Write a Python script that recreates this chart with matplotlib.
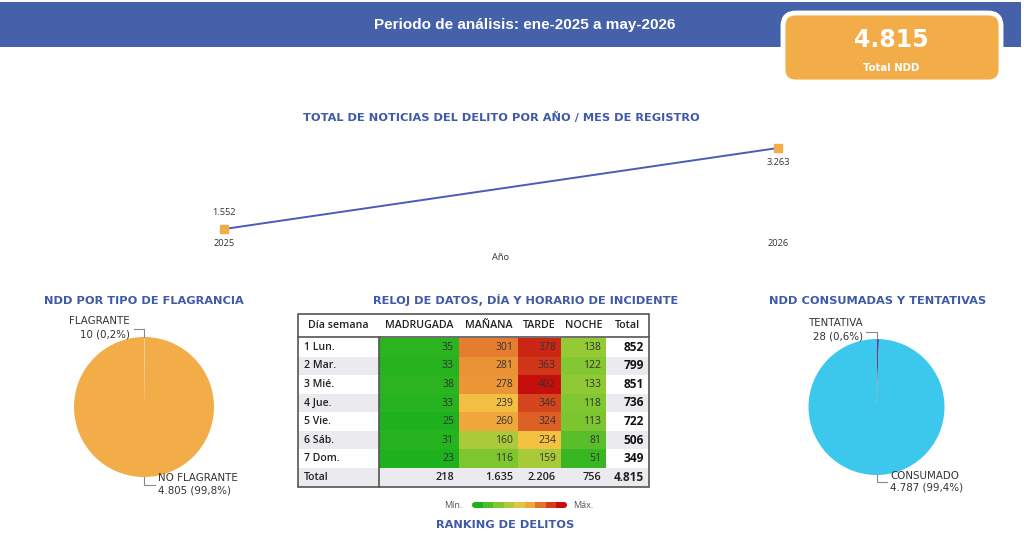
import numpy as np
import matplotlib
matplotlib.use("Agg")
import matplotlib.pyplot as plt
from matplotlib.colors import LinearSegmentedColormap, Normalize
from matplotlib.patches import Rectangle, FancyBboxPatch

# --- datos ---
periodo = "Periodo de análisis: ene-2025 a may-2026"

anios = [2025, 2026]
ndd_anio = [1552, 3263]

flag_labels = ["FLAGRANTE", "NO FLAGRANTE"]
flag_values = [10, 4805]

cons_labels = ["TENTATIVA", "CONSUMADO"]
cons_values = [28, 4787]

dias = ["1 Lun.", "2 Mar.", "3 Mié.", "4 Jue.", "5 Vie.", "6 Sáb.", "7 Dom."]
franjas = ["MADRUGADA", "MAÑANA", "TARDE", "NOCHE"]
madrugada = [35, 33, 38, 33, 25, 31, 23]
manana = [301, 281, 278, 239, 260, 160, 116]
tarde = [378, 363, 402, 346, 324, 234, 159]
noche = [138, 122, 133, 118, 113, 81, 51]

# --- estilo ---
BLUE = '#4461AA'
TITLE_BLUE = '#3F5AA8'
ORANGE = '#F2AD48'
CYAN = '#3CC7EC'
NAVY = '#3B4A9E'
TXT = '#333333'
TITLE_FONT = ['DejaVu Sans']
TABLE_FONT = ['Open Sans', 'DejaVu Sans']

heat = LinearSegmentedColormap.from_list('heat', [
    (0.0, '#1DB11D'), (0.3, '#93CB35'), (0.55, '#F4C544'),
    (0.7, '#EA8B33'), (0.85, '#D6481F'), (1.0, '#C40F0C')])


def fmt(n):
    return f"{n:,}".replace(",", ".")


def pct(v, tot):
    return f"{100 * v / tot:.1f}".replace(".", ",") + "%"


W, H = 1024, 535
fig = plt.figure(figsize=(W / 100, H / 100), dpi=100)
bg = fig.add_axes([0, 0, 1, 1])
bg.set_autoscale_on(False)
bg.set_xlim(0, W)
bg.set_ylim(H, 0)
bg.axis('off')


def px_axes(x0, y0, x1, y1):
    return fig.add_axes([x0 / W, 1 - y1 / H, (x1 - x0) / W, (y1 - y0) / H])


def title(x, y, s):
    bg.text(x, y, s, color=TITLE_BLUE, fontsize=8.2, fontweight='bold',
            family=TITLE_FONT, ha='center', va='center')


# cabecera
bg.add_patch(Rectangle((0, 2), 1021, 45, color=BLUE, lw=0))
bg.text(525, 25, periodo, color='white', fontsize=11, fontweight='bold',
        family=['Liberation Sans Narrow', 'Liberation Sans'], ha='center', va='center')
bg.add_patch(FancyBboxPatch((783, 13), 218, 69, boxstyle="round,pad=0,rounding_size=13",
                            fc=ORANGE, ec='white', lw=3.5))
total = sum(ndd_anio)
bg.text(891, 40, fmt(total), color='white', fontsize=17, fontweight='bold',
        family='DejaVu Sans', ha='center', va='center')
bg.text(891, 68, "Total NDD", color='white', fontsize=7.3, fontweight='bold',
        family='DejaVu Sans', ha='center', va='center')

# linea por año
title(501, 117, "TOTAL DE NOTICIAS DEL DELITO POR AÑO / MES DE REGISTRO")
ax = px_axes(180, 140, 820, 235)
ax.plot(anios, ndd_anio, color='#4A5CB8', lw=1.4, marker='s', ms=5.5,
        mfc=ORANGE, mec=ORANGE)
ax.set_xlim(2024.92, 2026.076)
ax.set_ylim(1425, 3432)
for x, v, off in zip(anios, ndd_anio, [16, -15]):
    ax.annotate(fmt(v), (x, v), xytext=(0, off), textcoords='offset pixels',
                ha='center', va='center', fontsize=6.7, color=TXT, family=TABLE_FONT)
ax.set_xticks(anios)
ax.set_xticklabels([str(a) for a in anios], fontsize=6.7, color=TXT, family=TABLE_FONT)
ax.tick_params(axis='x', length=0, pad=3)
ax.set_yticks([])
for s in ax.spines.values():
    s.set_visible(False)
ax.patch.set_alpha(0)
bg.text(500, 257, "Año", fontsize=6.7, color=TXT, family=TABLE_FONT, ha='center', va='center')


# tortas
def pie(cx, cy, r, labels, values, colors):
    k = 1.6
    pa = px_axes(cx - k * r, cy - k * r, cx + k * r, cy + k * r)
    pa.pie(values, colors=colors, startangle=90, counterclock=False,
           wedgeprops=dict(linewidth=0))
    pa.set_xlim(-k, k)
    pa.set_ylim(-k, k)
    pa.axis('off')
    tot = sum(values)
    # etiqueta pequeña arriba izquierda
    pa.plot([-0.15, 0.0, 0.0], [1.11, 1.11, 1.0], color='#888888', lw=0.8)
    pa.text(-0.2, 1.23, labels[0], ha='right', va='center', fontsize=7.4, color=TXT)
    pa.text(-0.2, 1.04, f"{fmt(values[0])} ({pct(values[0], tot)})",
            ha='right', va='center', fontsize=7.4, color=TXT)
    # etiqueta grande abajo derecha
    pa.plot([0.0, 0.0, 0.15], [-1.0, -1.11, -1.11], color='#888888', lw=0.8)
    pa.text(0.2, -1.01, labels[1], ha='left', va='center', fontsize=7.4, color=TXT)
    pa.text(0.2, -1.19, f"{fmt(values[1])} ({pct(values[1], tot)})",
            ha='left', va='center', fontsize=7.4, color=TXT)


title(144, 301, "NDD POR TIPO DE FLAGRANCIA")
pie(144, 407, 70, flag_labels, flag_values, ['#F8CFA5', ORANGE])
title(878, 301, "NDD CONSUMADAS Y TENTATIVAS")
pie(876.5, 407, 68, cons_labels, cons_values, [NAVY, CYAN])

# tabla reloj de datos
title(526, 300, "RELOJ DE DATOS, DÍA Y HORARIO DE INCIDENTE")
M = np.array([madrugada, manana, tarde, noche]).T
col_edges = [298, 379, 459, 518, 561, 606, 649]
head_top, head_bot = 314, 337
row_edges = np.linspace(338, 468, len(dias) + 1)
tab_bot = 487

for i in range(len(dias) + 1):
    if i % 2 == 1:
        y0 = row_edges[i]
        h = (row_edges[i + 1] - y0) if i < len(dias) else tab_bot - y0
        bg.add_patch(Rectangle((298, y0), 351, h, fc='#EAEAEF', ec='none'))

bg.pcolormesh(col_edges[1:6], row_edges, M, cmap=heat,
              norm=Normalize(M.min(), M.max()), shading='flat')

for j, f in enumerate(["Día semana"] + franjas + ["Total"]):
    bg.text((col_edges[j] + col_edges[j + 1]) / 2, 325.5, f, ha='center', va='center',
            fontsize=7.7, fontweight='semibold', color='#222222', family=TABLE_FONT)

row_tot = M.sum(axis=1)
for i, d in enumerate(dias):
    yc = (row_edges[i] + row_edges[i + 1]) / 2
    bg.text(304, yc, d, ha='left', va='center', fontsize=7.6, fontweight='semibold',
            color='#222222', family=TABLE_FONT)
    for j in range(M.shape[1]):
        bg.text(col_edges[j + 2] - 5, yc, fmt(M[i, j]), ha='right', va='center',
                fontsize=7.5, color=TXT, family=TABLE_FONT)
    bg.text(col_edges[6] - 5, yc, fmt(row_tot[i]), ha='right', va='center',
            fontsize=8.6, fontweight='bold', color='#111111', family=TABLE_FONT)

yc = (row_edges[-1] + tab_bot) / 2
bg.text(304, yc, "Total", ha='left', va='center', fontsize=7.6, fontweight='semibold',
        color='#222222', family=TABLE_FONT)
for j, v in enumerate(list(M.sum(axis=0)) + [M.sum()]):
    bg.text(col_edges[j + 2] - 5, yc, fmt(v), ha='right', va='center',
            fontsize=7.8 if j < 4 else 8.6, fontweight='semibold' if j < 4 else 'bold',
            color='#222222', family=TABLE_FONT)

bg.add_patch(Rectangle((298, head_top), 351, tab_bot - head_top, fill=False,
                       ec='#555555', lw=1.2))
bg.plot([298, 649], [head_bot, head_bot], color='#555555', lw=1.2)
bg.plot([379, 379], [head_bot, tab_bot], color='#555555', lw=1.2)

# leyenda mín / máx
bar = FancyBboxPatch((472, 502), 95, 6, boxstyle="round,pad=0,rounding_size=3",
                     fc='none', ec='none')
bg.add_patch(bar)
im = bg.imshow(np.linspace(0, 1, 9)[None, :], cmap=heat, aspect='auto',
               extent=[472, 567, 508, 502])
im.set_clip_path(bar)
bg.text(462, 505, "Mín.", ha='right', va='center', fontsize=6.5, color='#555555',
        family=TABLE_FONT)
bg.text(573, 505, "Máx.", ha='left', va='center', fontsize=6.5, color='#555555',
        family=TABLE_FONT)
title(505, 525, "RANKING DE DELITOS")

bg.set_xlim(0, W)
bg.set_ylim(H, 0)
fig.savefig("out.png", dpi=100)
